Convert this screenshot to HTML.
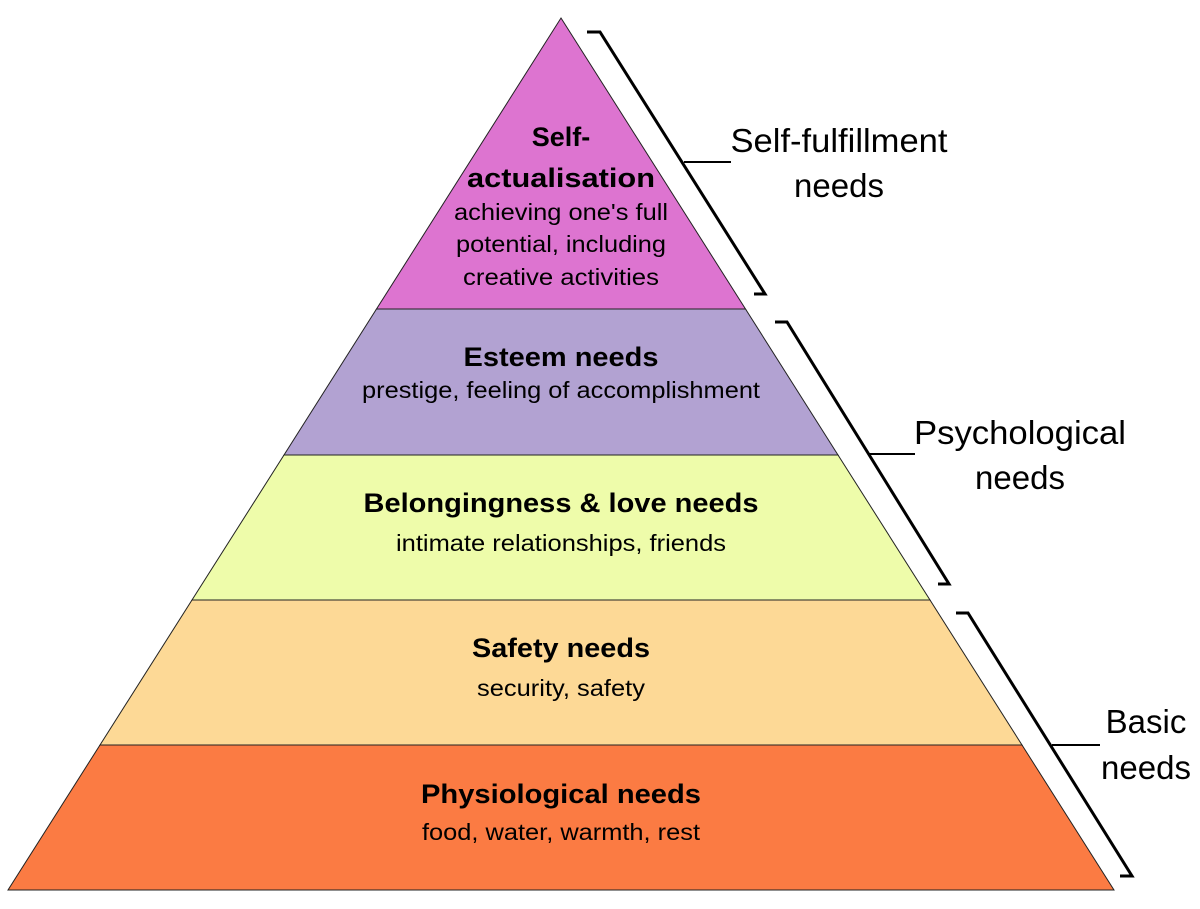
<!DOCTYPE html>
<html><head><meta charset="utf-8"><style>
html,body{margin:0;padding:0;background:#fff}
svg{display:block}
text{font-family:"Liberation Sans",Arial,sans-serif;fill:#000}
.b{font-weight:bold;font-size:27px}
.n{font-size:23px}
.l{font-size:33px}
</style></head><body>
<svg width="1200" height="909" viewBox="0 0 1200 909">
<g stroke="#222" stroke-width="1">
<polygon points="561,18 745.5,309 376.5,309" fill="#DD74D0"/>
<polygon points="376.5,309 745.5,309 838,455 284,455" fill="#B2A2D2"/>
<polygon points="284,455 838,455 930,600 192,600" fill="#EEFCAA"/>
<polygon points="192,600 930,600 1022,745 100,745" fill="#FDD996"/>
<polygon points="100,745 1022,745 1114,890 8,890" fill="#FB7B43"/>
</g>
<g stroke="#000" stroke-width="3" fill="none">
<polyline points="587,32 600,32 765,294 754,294"/>
<line x1="684" y1="162" x2="731" y2="162" stroke-width="2"/>
<polyline points="775,322 787,322 949,584 938,584"/>
<line x1="868" y1="454" x2="915" y2="454" stroke-width="2"/>
<polyline points="956,613 968,613 1132,876 1120,876"/>
<line x1="1052" y1="745" x2="1100" y2="745" stroke-width="2"/>
</g>
<g text-anchor="middle">
<text class="b" x="561" y="146">Self-</text>
<text class="b" x="561" y="187" textLength="188" lengthAdjust="spacingAndGlyphs">actualisation</text>
<text class="n" x="561" y="220" textLength="214" lengthAdjust="spacingAndGlyphs">achieving one's full</text>
<text class="n" x="561" y="252" textLength="210" lengthAdjust="spacingAndGlyphs">potential, including</text>
<text class="n" x="561" y="285" textLength="196" lengthAdjust="spacingAndGlyphs">creative activities</text>
<text class="b" x="561" y="366" textLength="195" lengthAdjust="spacingAndGlyphs">Esteem needs</text>
<text class="n" x="561" y="398" textLength="398" lengthAdjust="spacingAndGlyphs">prestige, feeling of accomplishment</text>
<text class="b" x="561" y="512" textLength="395" lengthAdjust="spacingAndGlyphs">Belongingness &amp; love needs</text>
<text class="n" x="561" y="551" textLength="330" lengthAdjust="spacingAndGlyphs">intimate relationships, friends</text>
<text class="b" x="561" y="657" textLength="178" lengthAdjust="spacingAndGlyphs">Safety needs</text>
<text class="n" x="561" y="696" textLength="168" lengthAdjust="spacingAndGlyphs">security, safety</text>
<text class="b" x="561" y="803" textLength="280" lengthAdjust="spacingAndGlyphs">Physiological needs</text>
<text class="n" x="561" y="840" textLength="278" lengthAdjust="spacingAndGlyphs">food, water, warmth, rest</text>
<text class="l" x="839" y="152" textLength="217" lengthAdjust="spacingAndGlyphs">Self-fulfillment</text>
<text class="l" x="839" y="197">needs</text>
<text class="l" x="1020" y="444" textLength="212" lengthAdjust="spacingAndGlyphs">Psychological</text>
<text class="l" x="1020" y="489">needs</text>
<text class="l" x="1146" y="733">Basic</text>
<text class="l" x="1146" y="779">needs</text>
</g>
</svg>
</body></html>
